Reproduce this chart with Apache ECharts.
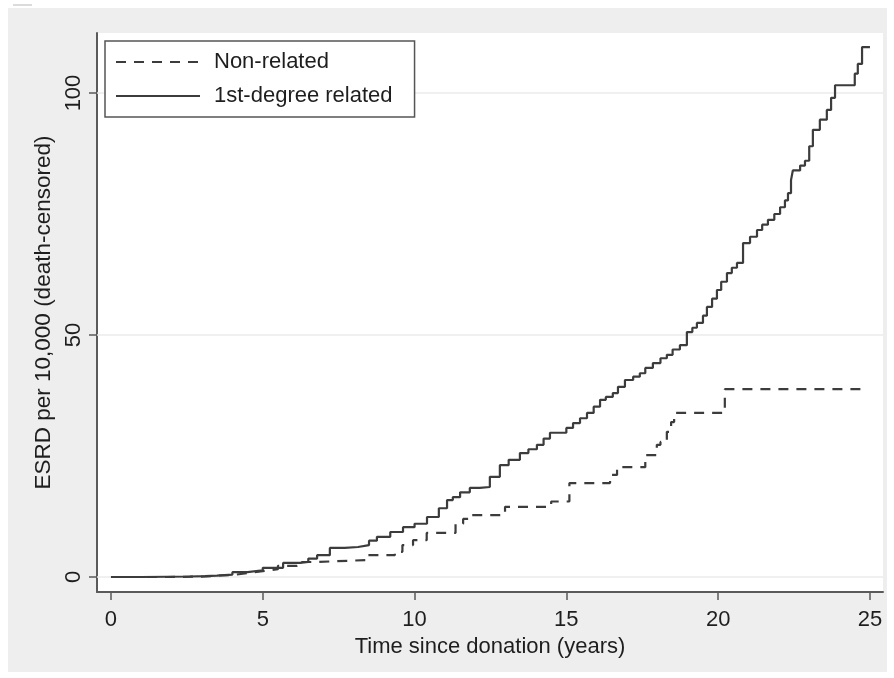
<!DOCTYPE html>
<html>
<head>
<meta charset="utf-8">
<script src="https://cdn.jsdelivr.net/npm/echarts@6/dist/echarts.min.js"></script>
<style>
  html, body { margin: 0; padding: 0; background: #ffffff; }
  #chart { width: 894px; height: 678px; }
</style>
</head>
<body>
<div id="chart"></div>
<script>
// ---- Data ----
var seriesNames = ['Non-related', '1st-degree related'];
var xTicks = [0, 5, 10, 15, 20, 25];
var yTicks = [0, 50, 100];

// 1st-degree related (solid)
var relatedT = [0, 1.0, 1.84, 2.6, 3.1, 3.49, 4.0, 4.5, 5.0, 5.67, 6.23, 6.5, 6.79, 7.21, 7.7, 8.14, 8.5, 8.76, 9.2, 9.62, 10.0, 10.41, 10.8, 11.07, 11.26, 11.5, 11.82, 12.15, 12.48, 12.81, 13.1, 13.47, 13.75, 14.03, 14.25, 14.46, 15.0, 15.22, 15.45, 15.68, 15.9, 16.11, 16.3, 16.53, 16.7, 16.93, 17.2, 17.42, 17.6, 17.85, 18.1, 18.31, 18.5, 18.74, 18.97, 19.15, 19.3, 19.5, 19.63, 19.8, 19.96, 20.1, 20.29, 20.45, 20.62, 20.82, 21.05, 21.28, 21.45, 21.64, 21.85, 22.04, 22.2, 22.3, 22.4, 22.46, 22.7, 22.86, 23.0, 23.12, 23.35, 23.58, 23.72, 23.85, 24.5, 24.6, 24.74, 25.0];
var relatedV = [0, 0.05, 0.1, 0.2, 0.3, 0.5, 1.0, 1.4, 1.9, 2.9, 3.1, 3.8, 4.5, 6.0, 6.2, 6.6, 7.5, 8.3, 9.3, 10.3, 11.0, 12.4, 14.2, 15.9, 16.5, 17.5, 18.4, 18.6, 20.7, 23.1, 24.2, 25.6, 26.4, 27.3, 28.6, 29.8, 30.8, 31.8, 32.8, 33.9, 35.2, 36.6, 37.2, 38.0, 39.3, 40.7, 41.4, 42.1, 43.2, 44.2, 45.2, 45.9, 47.0, 47.9, 50.6, 51.5, 52.5, 54.0, 55.8, 57.5, 59.3, 61.0, 62.8, 63.9, 64.9, 69.0, 70.3, 71.7, 72.8, 73.8, 75.0, 76.4, 77.8, 79.3, 82.0, 84.0, 85.0, 86.0, 89.0, 92.4, 94.5, 96.5, 99.0, 101.6, 104.0, 106.0, 109.5, 109.5];

// Non-related (dashed)
var nonRelT = [0, 1.84, 3.1, 3.49, 4.0, 4.5, 5.0, 5.5, 6.13, 6.79, 8.43, 9.35, 9.6, 9.95, 10.4, 11.35, 11.6, 11.85, 12.98, 14.5, 15.1, 16.44, 16.67, 17.6, 17.98, 18.1, 18.31, 18.45, 18.55, 20.22, 24.93];
var nonRelV = [0, 0.1, 0.3, 0.4, 0.8, 1.2, 1.6, 2.3, 3.1, 3.5, 4.5, 5.2, 6.6, 7.6, 9.1, 11.0, 12.0, 12.8, 14.5, 15.6, 19.4, 21.1, 22.7, 25.2, 27.3, 27.9, 30.0, 32.0, 33.9, 38.8, 38.8];

function pairs(t, v) {
  var out = [];
  for (var i = 0; i < t.length; i++) out.push([t[i], v[i]]);
  return out;
}

var FONT = 'Liberation Sans, Arial, Helvetica, sans-serif';
var TXT = '#1e1e1e';
var AXIS = '#5a5a5a';
var LINE = '#3c3c3c';

var chart = echarts.init(document.getElementById('chart'), null, { renderer: 'canvas' });

var option = {
  backgroundColor: '#ffffff',
  animation: false,
  textStyle: { fontFamily: FONT },
  graphic: {
    elements: [
      { type: 'rect', z: -10, shape: { x: 8, y: 8, width: 879, height: 664 }, style: { fill: '#eeeeee' } },
      { type: 'line', z: -9, shape: { x1: 13, y1: 5, x2: 32, y2: 5 }, style: { stroke: '#cfcfcf', lineWidth: 1.5 } }
    ]
  },
  grid: {
    left: 97, top: 33, right: 11, bottom: 86,
    show: true, backgroundColor: '#ffffff', borderWidth: 0
  },
  legend: {
    orient: 'vertical',
    left: 105, top: 41,
    padding: [10, 22, 10, 10],
    itemWidth: 84, itemHeight: 14, itemGap: 12,
    backgroundColor: '#ffffff',
    borderColor: '#555555', borderWidth: 1.5, borderRadius: 0,
    data: seriesNames,
    itemStyle: { opacity: 0 },
    textStyle: { fontSize: 22, color: TXT, fontFamily: FONT, padding: [0, 0, 0, 9] }
  },
  xAxis: {
    type: 'value',
    min: -0.46, max: 25.43,
    name: 'Time since donation (years)',
    nameLocation: 'middle', nameGap: 36,
    nameTextStyle: { fontSize: 22, color: TXT, fontFamily: FONT },
    axisLine: { show: true, onZero: false, lineStyle: { color: AXIS, width: 2 } },
    axisTick: { show: true, customValues: xTicks, length: 8, lineStyle: { color: AXIS, width: 1.5 } },
    axisLabel: { customValues: xTicks, fontSize: 22, color: TXT, margin: 17, fontFamily: FONT },
    splitLine: { show: false }
  },
  yAxis: {
    type: 'value',
    min: -3.1, max: 112.4,
    name: 'ESRD per 10,000 (death-censored)',
    nameLocation: 'middle', nameGap: 37, nameRotate: 90,
    nameTextStyle: { fontSize: 22.5, color: TXT, fontFamily: FONT },
    axisLine: { show: true, onZero: false, lineStyle: { color: AXIS, width: 2 } },
    axisTick: { show: true, customValues: yTicks, length: 8, lineStyle: { color: AXIS, width: 1.5 } },
    axisLabel: { customValues: yTicks, rotate: 90, fontSize: 22, color: TXT, margin: 12, fontFamily: FONT },
    splitLine: { show: false }
  },
  series: [
    {
      name: seriesNames[0],
      type: 'line',
      step: 'end',
      symbol: 'none',
      z: 3,
      data: pairs(nonRelT, nonRelV),
      lineStyle: { color: LINE, width: 2.2, type: [10, 8] },
      itemStyle: { color: LINE }
    },
    {
      name: seriesNames[1],
      type: 'line',
      step: 'end',
      symbol: 'none',
      z: 3,
      data: pairs(relatedT, relatedV),
      lineStyle: { color: LINE, width: 2.2, type: 'solid' },
      itemStyle: { color: LINE },
      markLine: {
        silent: true,
        z: 1,
        symbol: ['none', 'none'],
        label: { show: false },
        lineStyle: { color: '#ebebeb', width: 1.5, type: 'solid' },
        data: yTicks.map(function (v) { return { yAxis: v }; })
      }
    }
  ]
};

chart.setOption(option);
</script>
</body>
</html>
